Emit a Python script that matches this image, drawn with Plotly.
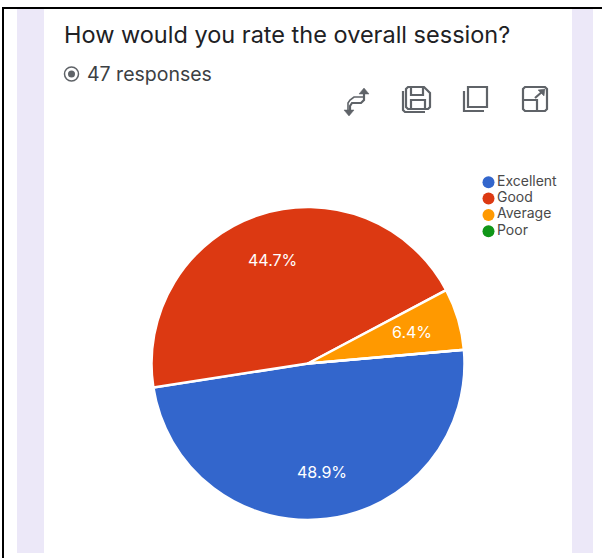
import plotly.graph_objects as go

W, H = 602, 558
categories = ["Excellent", "Good", "Average", "Poor"]
responses = [23, 21, 3, 0]
colors = ["#3366cc", "#dc3912", "#ff9900", "#109618"]
title_text = "How would you rate the overall session?"
subtitle_text = "47 responses"
FONT = "Inter"
GREY = "#5f6368"

def px(x): return x / W
def py(y): return 1 - y / H
def path(points, close=False):
    s = "M " + " L ".join(f"{px(x):.5f},{py(y):.5f}" for x, y in points)
    return s + (" Z" if close else "")

fig = go.Figure()
cx, cy, r = 308, 363.5, 156.5
fig.add_trace(go.Pie(
    labels=categories, values=responses, sort=False, direction="clockwise", rotation=85,
    marker=dict(colors=colors, line=dict(color="white", width=2.5)),
    textinfo="none", hoverinfo="label+percent",
    domain=dict(x=[px(cx - r), px(cx + r)], y=[py(cy + r), py(cy - r)]), showlegend=False,
))
fig.add_trace(go.Scatter(
    x=[0] * 4, y=categories, mode="markers+text", text=categories, textposition="middle right",
    marker=dict(size=12, color=colors), textfont=dict(family=FONT, size=14, color="#4a4a4a"),
    xaxis="x", yaxis="y", showlegend=False, cliponaxis=False, hoverinfo="skip",
))

shapes = []
def rect(x0, y0, x1, y1, fill=None):
    shapes.append(dict(type="rect", xref="paper", yref="paper", x0=px(x0), x1=px(x1), y0=py(y0), y1=py(y1),
                       fillcolor=fill, line=dict(width=0), layer="below"))
def stroke(points, w=2.2, c=GREY, close=False):
    shapes.append(dict(type="path", xref="paper", yref="paper", path=path(points, close),
                       line=dict(color=c, width=w), layer="above"))
def fillpoly(points, c=GREY):
    shapes.append(dict(type="path", xref="paper", yref="paper", path=path(points, True),
                       fillcolor=c, line=dict(color=c, width=0.5), layer="above"))

rect(17, 8, 44, 553, fill="#ece8f8")
rect(572, 8, 593, 553, fill="#ece8f8")
rect(2, 7, 602, 9, fill="black")
rect(2, 7, 4, 558, fill="black")

# switch icon
stroke([(364, 92), (364, 100), (361, 103), (352, 103), (350, 106), (350, 113)])
stroke([(364, 97), (354, 97), (350, 100), (348, 103), (348, 113)], w=1.6)
fillpoly([(359, 94), (364, 88), (369, 94)])
fillpoly([(344, 110), (349, 116), (354, 110)])
# save icon
stroke([(408, 87), (424, 87), (430, 93), (430, 107), (428, 109), (408, 109), (406, 107), (406, 89)], close=True)
stroke([(403, 91), (403, 110), (405, 112), (425, 112)])
stroke([(411, 88), (411, 95), (423, 95), (423, 88)])
stroke([(411, 109), (411, 100), (425, 100), (425, 109)])
# copy icon
stroke([(468, 87), (487, 87), (487, 107), (468, 107)], close=True)
stroke([(464, 91), (464, 111), (484, 111)])
# expand icon
stroke([(525, 87), (545, 87), (547, 89), (547, 109), (545, 111), (525, 111), (523, 109), (523, 89)], close=True)
stroke([(523, 100), (537, 100), (537, 111)])
stroke([(535, 98), (543, 91)])
fillpoly([(538, 90), (545, 89), (544, 96)])
# radio icon
fig.add_shape(type="circle", xref="paper", yref="paper", x0=px(64.5), x1=px(78.5), y0=py(81), y1=py(67),
              line=dict(color=GREY, width=1.5))
fig.add_shape(type="circle", xref="paper", yref="paper", x0=px(68), x1=px(75), y0=py(77.5), y1=py(70.5),
              fillcolor=GREY, line=dict(width=0))

total = sum(responses)
label_pos = {"Excellent": (322, 472), "Good": (272, 260), "Average": (412, 332)}
pct_ann = [dict(text=f"{100 * v / total:.1f}%", xref="paper", yref="paper", x=px(label_pos[c][0]), y=py(label_pos[c][1]),
                xanchor="center", yanchor="middle", showarrow=False,
                font=dict(family=FONT, size=16, color="white"))
           for c, v in zip(categories, responses) if v > 0]

fig.update_layout(
    width=W, height=H, margin=dict(l=0, r=0, t=0, b=0), paper_bgcolor="white", plot_bgcolor="rgba(0,0,0,0)",
    showlegend=False, shapes=list(fig.layout.shapes) + shapes,
    xaxis=dict(domain=[px(488.5), px(560)], range=[0, 1], visible=False, fixedrange=True),
    yaxis=dict(domain=[py(239.5), py(174)], type="category", categoryorder="array", categoryarray=categories[::-1],
               range=[-0.5, 3.5], visible=False, fixedrange=True),
    annotations=[
        dict(text=title_text, xref="paper", yref="paper", x=px(62), y=py(35), xanchor="left", yanchor="middle",
             showarrow=False, font=dict(family=FONT, size=23.5, color="#202124")),
        dict(text=subtitle_text, xref="paper", yref="paper", x=px(85), y=py(74), xanchor="left", yanchor="middle",
             showarrow=False, font=dict(family=FONT, size=19.5, color="#3c4043")),
    ] + pct_ann,
)
fig.write_html("out.html", post_script="document.body.style.margin='0';", config=dict(displayModeBar=False))
